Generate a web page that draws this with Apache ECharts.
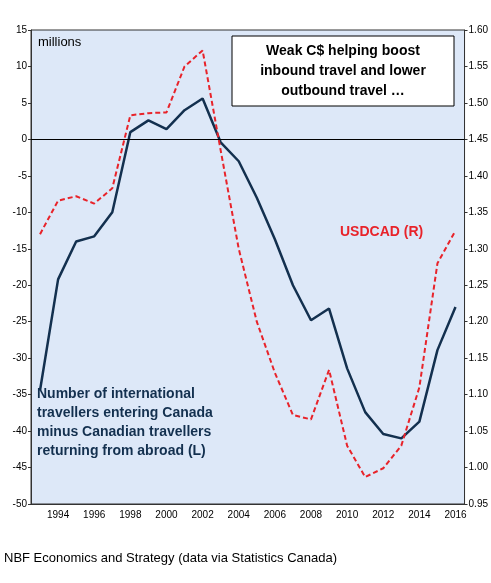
<!DOCTYPE html>
<html><head><meta charset="utf-8">
<script src="https://cdn.jsdelivr.net/npm/echarts@6/dist/echarts.min.js"></script>
<style>html,body{margin:0;padding:0;background:#fff}#c{width:491px;height:583px}</style>
</head><body><div id="c"></div>
<script>
var years = ['1993','1994','1995','1996','1997','1998','1999','2000','2001','2002','2003','2004','2005','2006','2007','2008','2009','2010','2011','2012','2013','2014','2015','2016'];
var travellers = [-34.4,-19.2,-14,-13.3,-10,1,2.6,1.4,4,5.6,-0.4,-3,-8,-13.7,-20,-24.8,-23.2,-31.4,-37.4,-40.4,-41,-38.7,-28.9,-23];
var usdcad = [1.32,1.366,1.372,1.362,1.383,1.483,1.486,1.487,1.55,1.572,1.435,1.30,1.20,1.13,1.072,1.066,1.134,1.03,0.987,0.999,1.03,1.11,1.28,1.325];

var chart = echarts.init(document.getElementById('c'));
var font = 'Liberation Sans, Arial, sans-serif';
chart.setOption({
    animation: false,
    grid: {left: 31, right: 26, top: 30, bottom: 79, show: true, backgroundColor: '#dde8f8', borderColor: '#333', borderWidth: 1},
    xAxis: {
        type: 'category', data: years, boundaryGap: true,
        axisLine: {onZero: false, lineStyle: {color: '#333'}},
        axisTick: {interval: function (i) { return i % 2 == 1; }, length: 4, lineStyle: {color: '#333'}},
        axisLabel: {interval: function (i) { return i % 2 == 1; }, fontSize: 10, color: '#000', fontFamily: font, margin: 6}
    },
    yAxis: [{
        type: 'value', min: -50, max: 15, interval: 5,
        splitLine: {show: false},
        axisLine: {show: true, lineStyle: {color: '#333'}},
        axisTick: {show: true, length: 3, lineStyle: {color: '#333'}},
        axisLabel: {fontSize: 10, color: '#000', fontFamily: font, margin: 4}
    }, {
        type: 'value', min: 0.95, max: 1.60, interval: 0.05,
        splitLine: {show: false},
        axisLine: {show: true, lineStyle: {color: '#333'}},
        axisTick: {show: true, length: 3, lineStyle: {color: '#333'}},
        axisLabel: {fontSize: 10, color: '#000', fontFamily: font, margin: 4,
            formatter: function (v) { return v.toFixed(2); }}
    }],
    series: [{
        type: 'line', data: travellers, yAxisIndex: 0, symbol: 'none',
        lineStyle: {color: '#13304f', width: 2.5},
        markLine: {silent: true, symbol: 'none', label: {show: false},
            lineStyle: {color: '#000', width: 1, type: 'solid'}, data: [{yAxis: 0}]}
    }, {
        type: 'line', data: usdcad, yAxisIndex: 1, symbol: 'none',
        lineStyle: {color: '#e8232a', width: 2, type: [5, 3]}
    }],
    graphic: [
        {type: 'text', left: 38, top: 36, style: {text: 'millions', fill: '#000', font: '13px ' + font}},
        {type: 'rect', shape: {x: 232, y: 36, width: 222, height: 70}, style: {fill: '#fff', stroke: '#000', lineWidth: 1}},
        {type: 'text', x: 343, y: 71, style: {text: 'Weak C$ helping boost\ninbound travel and lower\noutbound travel …', align: 'center', verticalAlign: 'middle', lineHeight: 20, fill: '#000', font: 'bold 14px ' + font}},
        {type: 'text', left: 340, top: 225, style: {text: 'USDCAD (R)', fill: '#e8232a', font: 'bold 14px ' + font}},
        {type: 'text', left: 37, top: 385, style: {text: 'Number of international\ntravellers entering Canada\nminus Canadian travellers\nreturning from abroad (L)', lineHeight: 19, fill: '#13304f', font: 'bold 14px ' + font}},
        {type: 'text', left: 4, top: 552, style: {text: 'NBF Economics and Strategy (data via Statistics Canada)', fill: '#000', font: '13px ' + font}}
    ]
});
</script></body></html>
